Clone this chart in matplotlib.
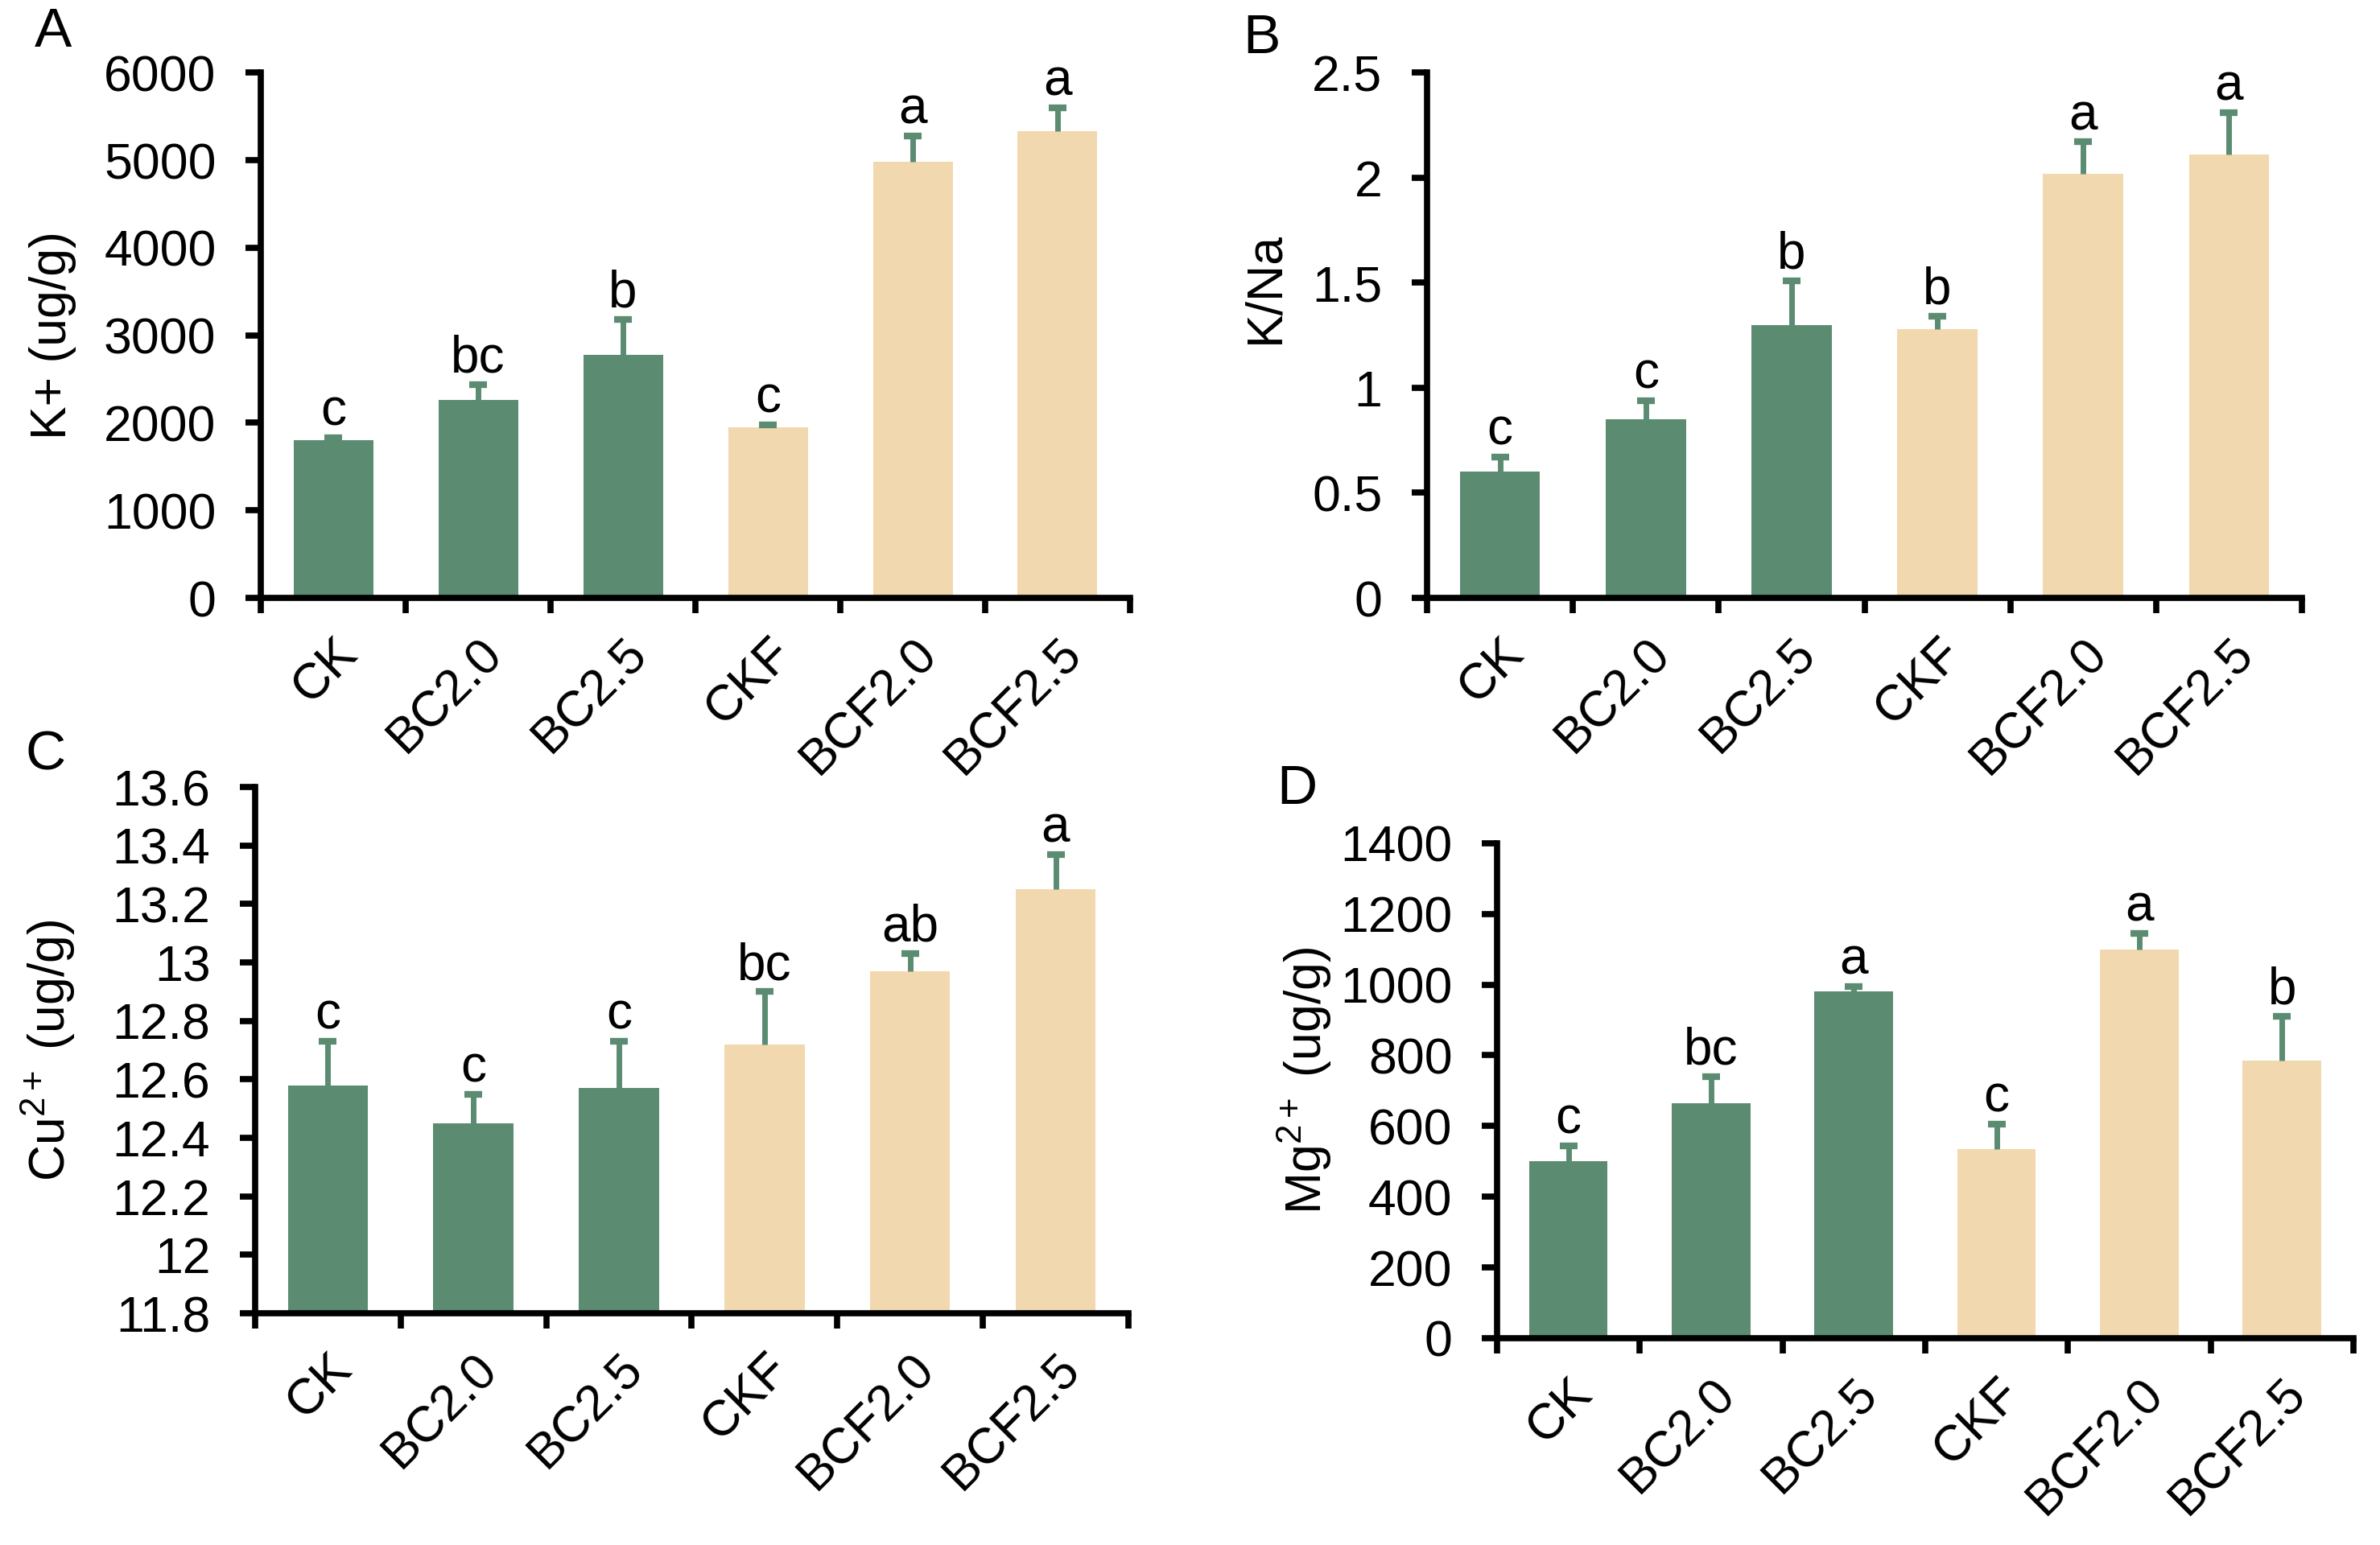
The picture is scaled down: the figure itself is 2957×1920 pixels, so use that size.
import matplotlib
matplotlib.use("Agg")
import matplotlib.pyplot as plt
import numpy as np
from matplotlib.ticker import FuncFormatter, FixedLocator

plt.rcParams['font.family'] = ['Liberation Sans', 'DejaVu Sans']
plt.rcParams['mathtext.fontset'] = 'custom'
plt.rcParams['mathtext.rm'] = 'Liberation Sans'
plt.rcParams['mathtext.it'] = 'Liberation Sans:italic'

categories = ["CK", "BC2.0", "BC2.5", "CKF", "BCF2.0", "BCF2.5"]

k_vals = [1800, 2260, 2780, 1950, 4980, 5330]
k_err = [30, 180, 400, 30, 300, 270]
k_letters = ["c", "bc", "b", "c", "a", "a"]

kna_vals = [0.60, 0.85, 1.30, 1.28, 2.02, 2.11]
kna_err = [0.07, 0.09, 0.21, 0.06, 0.15, 0.20]
kna_letters = ["c", "c", "b", "b", "a", "a"]

cu_vals = [12.58, 12.45, 12.57, 12.72, 12.97, 13.25]
cu_err = [0.15, 0.10, 0.16, 0.18, 0.06, 0.12]
cu_letters = ["c", "c", "c", "bc", "ab", "a"]

mg_vals = [500, 665, 980, 535, 1100, 785]
mg_err = [45, 75, 15, 70, 45, 125]
mg_letters = ["c", "bc", "a", "c", "a", "b"]

green = "#5b8c72"
tan = "#f2d8ae"
colors = [green, green, green, tan, tan, tan]

fig = plt.figure(figsize=(29.57, 19.2), dpi=100)

FS = 45
LW = 5.5

def panel(rect, vals, errs, letters, ylim, yticks, ylabel, label_xy, letter, letter_xy, bottom=0):
    ax = fig.add_axes(rect)
    x = np.arange(len(categories))
    vals = np.array(vals, dtype=float)
    errs = np.array(errs, dtype=float)
    ax.bar(x, vals - bottom, bottom=bottom, width=0.55, color=colors, zorder=2)
    eb = ax.errorbar(x, vals, yerr=[np.zeros_like(errs), errs], fmt='none',
                     ecolor=green, elinewidth=5, capsize=8, capthick=6, zorder=3)
    for cl in eb[1]:
        yd = np.asarray(cl.get_ydata())
        if np.allclose(yd, vals):
            cl.set_visible(False)
    for xi, v, e, t in zip(x, vals, errs, letters):
        ax.annotate(t, (xi, v + e), xytext=(0, 11), textcoords='offset points',
                    ha='center', va='baseline', fontsize=46)
    ax.set_xlim(-0.5, len(categories) - 0.5)
    ax.set_ylim(*ylim)
    ax.yaxis.set_major_locator(FixedLocator(yticks))
    ax.yaxis.set_major_formatter(FuncFormatter(lambda v, p: "%g" % round(v, 3)))
    ax.set_xticks(x)
    ax.set_xticklabels(categories, rotation=45, ha='right', rotation_mode='anchor', fontsize=FS)
    ax.set_xticks(np.arange(-0.5, len(categories), 1.0), minor=True)
    ax.tick_params(axis='x', which='major', length=0, pad=28)
    ax.tick_params(axis='x', which='minor', length=14, width=LW, direction='out')
    ax.tick_params(axis='y', which='major', length=14, width=LW, direction='out', labelsize=FS, pad=26)
    for s in ['top', 'right']:
        ax.spines[s].set_visible(False)
    for s in ['left', 'bottom']:
        ax.spines[s].set_linewidth(LW)
    ax.set_ylabel(ylabel, fontsize=FS)
    ax.yaxis.label.set_va('center')
    ax.yaxis.set_label_coords(*label_xy)
    fig.text(letter_xy[0], letter_xy[1], letter, fontsize=50, ha='center', va='center')
    return ax

panel([0.1096, 0.613, 0.3652, 0.340], k_vals, k_err, k_letters, (0, 6000),
      np.arange(0, 6001, 1000), "K+ (ug/g)", (-0.239, 0.5), "A", (0.0223, 0.979))
panel([0.5996, 0.613, 0.3676, 0.340], kna_vals, kna_err, kna_letters, (0, 2.5),
      np.arange(0, 2.51, 0.5), "K/Na", (-0.185, 0.59), "B", (0.530, 0.975))
panel([0.1072, 0.150, 0.3669, 0.3406], cu_vals, cu_err, cu_letters, (11.8, 13.6),
      np.arange(11.8, 13.61, 0.2), "Cu$^{2+}$ (ug/g)", (-0.237, 0.5), "C", (0.019, 0.511), bottom=11.8)
panel([0.629, 0.1339, 0.3598, 0.3203], mg_vals, mg_err, mg_letters, (0, 1400),
      np.arange(0, 1401, 200), "Mg$^{2+}$ (ug/g)", (-0.224, 0.52), "D", (0.545, 0.489))

fig.savefig("out.png", dpi=100)
